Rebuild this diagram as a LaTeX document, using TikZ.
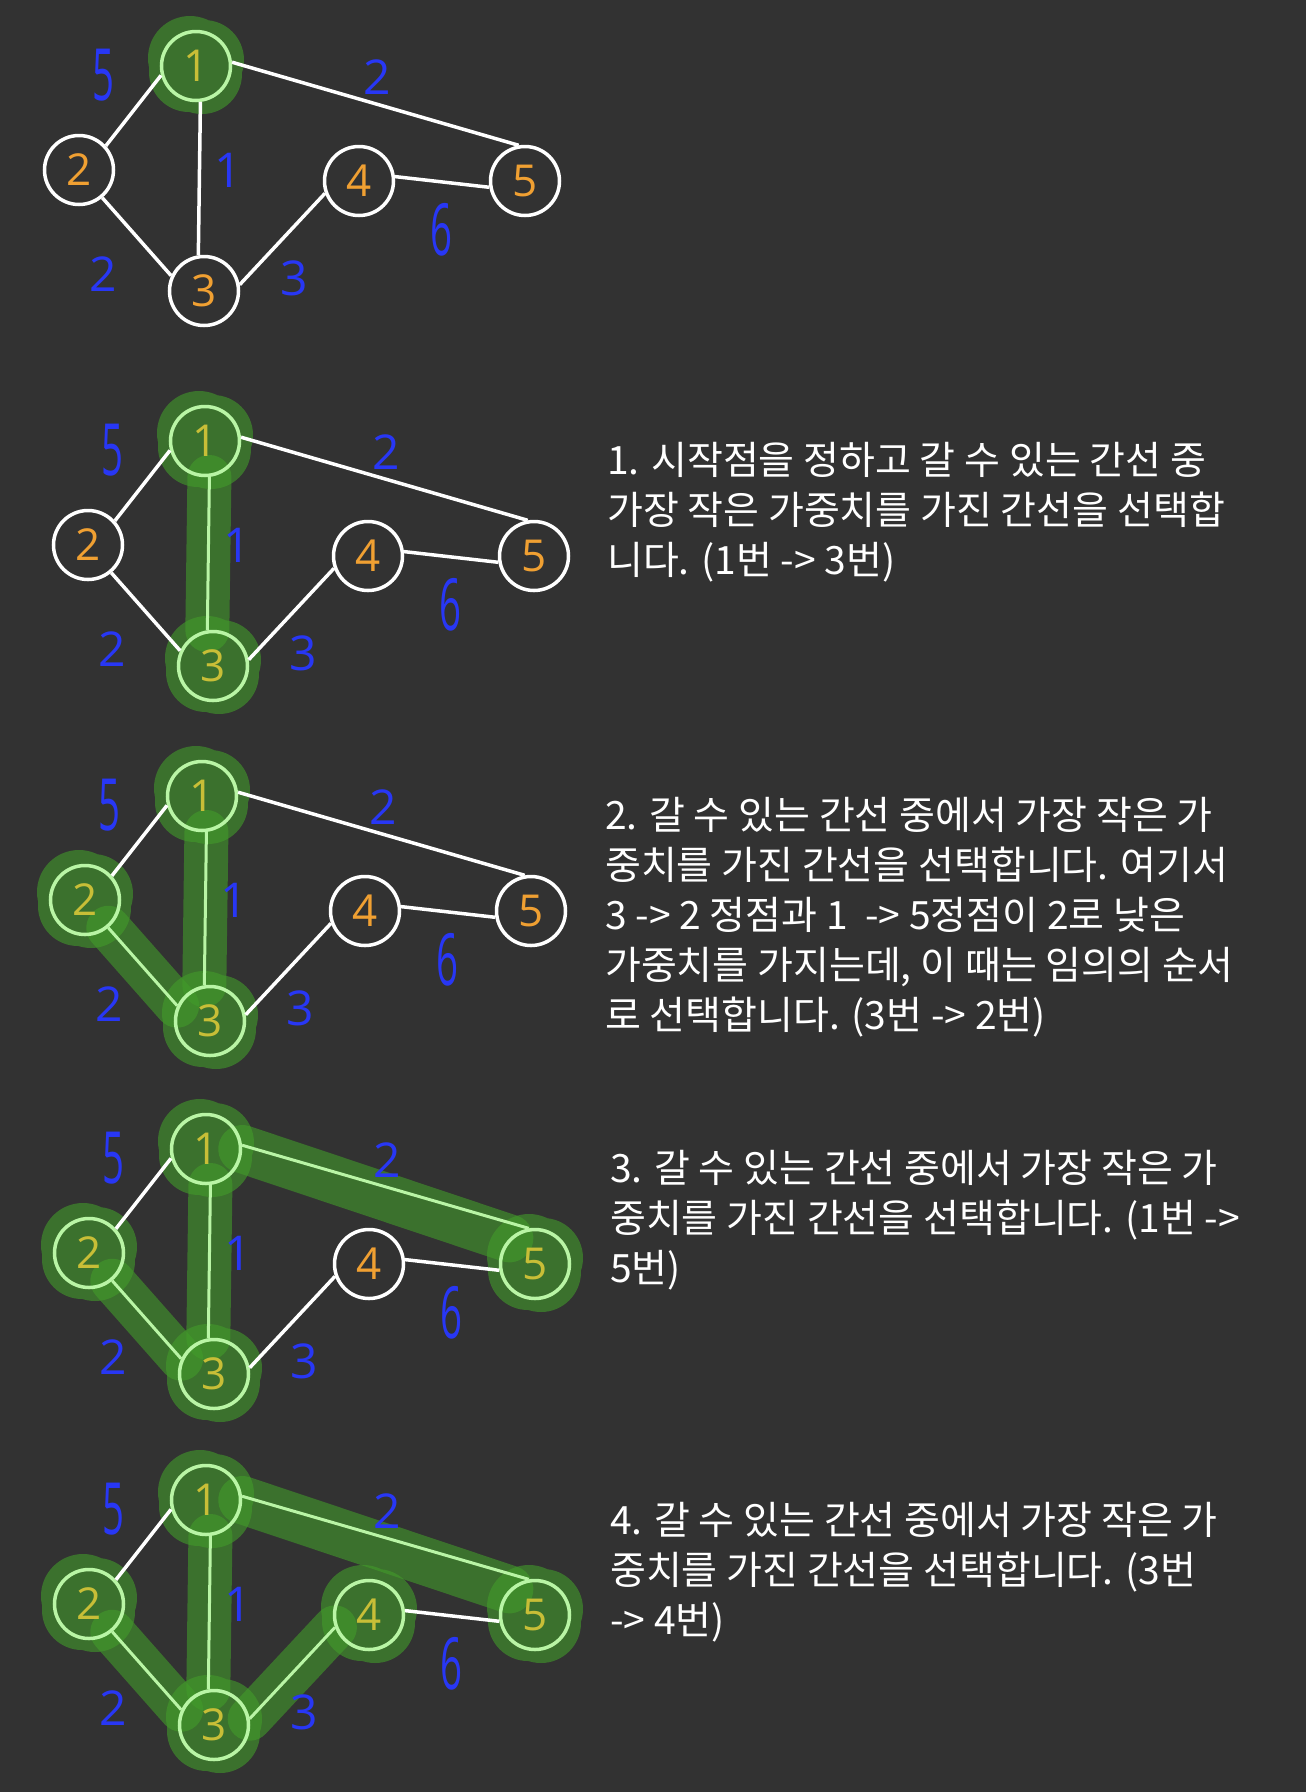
\documentclass[tikz,border=0pt]{standalone}
\usepackage{fontspec}
\newfontfamily\krfont{Noto Sans CJK KR}
\newfontfamily\handfont{Open Sans}
\usepackage{tikz}

\definecolor{bgcol}{RGB}{50,50,50}
\definecolor{vorange}{RGB}{240,160,50}
\definecolor{olive}{RGB}{200,190,55}
\definecolor{lgreen}{RGB}{185,245,165}
\definecolor{wblue}{RGB}{40,55,245}
\definecolor{blobgreen}{RGB}{66,155,42}

\pgfdeclarelayer{back}
\pgfdeclarelayer{blobs}
\pgfsetlayers{back,blobs,main}

\tikzset{
  vtx/.style={circle, draw=white, line width=3.5pt, minimum size=69pt, inner sep=0pt,
    text=vorange, font=\handfont\fontsize{44}{44}\selectfont},
  picked/.style={draw=lgreen, text=olive},
  link/.style={draw=white, line width=3.5pt},
  pickedlink/.style={draw=lgreen, line width=3pt},
  weight/.style={text=wblue, inner sep=0pt, font=\handfont\fontsize{48}{48}\selectfont},
  band/.style={draw=blobgreen, line width=44pt, line cap=round, draw opacity=0.6},
  blobfill/.style={fill=blobgreen, fill opacity=0.6},
  story/.style={text=white, anchor=base west, inner sep=0pt,
    font=\krfont\fontsize{39}{50}\selectfont},
  v1/.style={}, v2/.style={}, v3/.style={}, v4/.style={}, v5/.style={},
  e12/.style={}, e13/.style={}, e15/.style={}, e23/.style={}, e34/.style={}, e45/.style={},
}

\newcommand{\tall}[1]{\scalebox{0.8}[1.5]{#1}}

% one copy of the graph, node names start with #1
\newcommand{\mstgraph}[1]{%
  \node[vtx,v1] (#1-1) at (196,66)  {1};
  \node[vtx,v2] (#1-2) at (79,170)  {2};
  \node[vtx,v3] (#1-3) at (204,291) {3};
  \node[vtx,v4] (#1-4) at (359,181) {4};
  \node[vtx,v5] (#1-5) at (525,181) {5};
  \draw[link,e12] (#1-1.195) -- (#1-2.42);
  \draw[link,e13] (#1-1.277) -- (#1-3.99);
  \draw[link,e15] (#1-1.6) -- (#1-5.100);
  \draw[link,e23] (#1-2.310) -- (#1-3.155);
  \draw[link,e34] (#1-3.10) -- (#1-4.200);
  \draw[link,e45] (#1-4.7) -- (#1-5.190);
  \node[weight] (#1-w12) at (103,75)  {\tall{5}};
  \node[weight] (#1-w15) at (377,77)  {2};
  \node[weight] (#1-w13) at (228,170) {1};
  \node[weight] (#1-w23) at (103,274) {2};
  \node[weight] (#1-w34) at (294,278) {3};
  \node[weight] (#1-w45) at (441,230) {\tall{6}};
}

% green marker round a chosen vertex
\newcommand{\blob}[1]{%
  \fill[blobfill] (#1.center) circle[radius=44pt]
    ([shift={(-6,-8)}]#1.center) circle[radius=42pt]
    ([shift={(8,-6)}]#1.center) circle[radius=40pt]
    ([shift={(6,8)}]#1.center) circle[radius=40pt]
    ([shift={(-7,6)}]#1.center) circle[radius=40pt];
}

\begin{document}
\begin{tikzpicture}[x=1pt,y=-1pt]
\begin{pgfonlayer}{back}
  \fill[bgcol] (0,0) rectangle (1306,1792);
\end{pgfonlayer}
\useasboundingbox (0,0) rectangle (1306,1792);

% start vertex
\begin{scope}[v1/.style=picked]
  \mstgraph{ga}
\end{scope}
\begin{pgfonlayer}{blobs}
  \blob{ga-1}
\end{pgfonlayer}

% step 1
\begin{scope}[shift={(9,375)}, v1/.style=picked, v3/.style=picked, e13/.style=pickedlink]
  \mstgraph{gb}
\end{scope}
\begin{pgfonlayer}{blobs}
  \blob{gb-1} \blob{gb-3}
  \draw[band] (gb-1.277) -- (gb-3.99);
\end{pgfonlayer}
\foreach \ln [count=\k from 0] in {{1. 시작점을 정하고 갈 수 있는 간선 중},
    {가장 작은 가중치를 가진 간선을 선택합}, {니다. (1번 -> 3번)}}
  \node[story] (tb-\k) at (607,474+50*\k) {\ln};

% step 2
\begin{scope}[shift={(6,730)}, v1/.style=picked, v2/.style=picked, v3/.style=picked,
    e13/.style=pickedlink, e23/.style=pickedlink]
  \mstgraph{gc}
\end{scope}
\begin{pgfonlayer}{blobs}
  \blob{gc-1} \blob{gc-2} \blob{gc-3}
  \draw[band] (gc-1.277) -- (gc-3.99);
  \draw[band] (gc-2.310) -- (gc-3.155);
\end{pgfonlayer}
\foreach \ln [count=\k from 0] in {{2. 갈 수 있는 간선 중에서 가장 작은 가},
    {중치를 가진 간선을 선택합니다. 여기서}, {3 -> 2 정점과 1\ \ -> 5정점이 2로 낮은},
    {가중치를 가지는데, 이 때는 임의의 순서}, {로 선택합니다. (3번 -> 2번)}}
  \node[story] (tc-\k) at (605,829+50*\k) {\ln};

% step 3
\begin{scope}[shift={(10,1083)}, v1/.style=picked, v2/.style=picked, v3/.style=picked,
    v5/.style=picked, e13/.style=pickedlink, e23/.style=pickedlink, e15/.style=pickedlink]
  \mstgraph{gd}
\end{scope}
\begin{pgfonlayer}{blobs}
  \blob{gd-1} \blob{gd-2} \blob{gd-3} \blob{gd-5}
  \draw[band] (gd-1.277) -- (gd-3.99);
  \draw[band] (gd-2.310) -- (gd-3.155);
  \draw[band, line width=48pt] (gd-1.0) -- (gd-5.135);
\end{pgfonlayer}
\foreach \ln [count=\k from 0] in {{3. 갈 수 있는 간선 중에서 가장 작은 가},
    {중치를 가진 간선을 선택합니다. (1번 ->}, {5번)}}
  \node[story] (td-\k) at (610,1182+50*\k) {\ln};

% step 4
\begin{scope}[shift={(10,1434)}, v1/.style=picked, v2/.style=picked, v3/.style=picked,
    v4/.style=picked, v5/.style=picked, e13/.style=pickedlink, e23/.style=pickedlink,
    e15/.style=pickedlink, e34/.style=pickedlink]
  \mstgraph{ge}
\end{scope}
\begin{pgfonlayer}{blobs}
  \blob{ge-1} \blob{ge-2} \blob{ge-3} \blob{ge-4} \blob{ge-5}
  \draw[band] (ge-1.277) -- (ge-3.99);
  \draw[band] (ge-2.310) -- (ge-3.155);
  \draw[band, line width=48pt] (ge-1.0) -- (ge-5.135);
  \draw[band] (ge-3.10) -- (ge-4.200);
\end{pgfonlayer}
\foreach \ln [count=\k from 0] in {{4. 갈 수 있는 간선 중에서 가장 작은 가},
    {중치를 가진 간선을 선택합니다. (3번}, {-> 4번)}}
  \node[story] (te-\k) at (610,1534+50*\k) {\ln};
\end{tikzpicture}
\end{document}
